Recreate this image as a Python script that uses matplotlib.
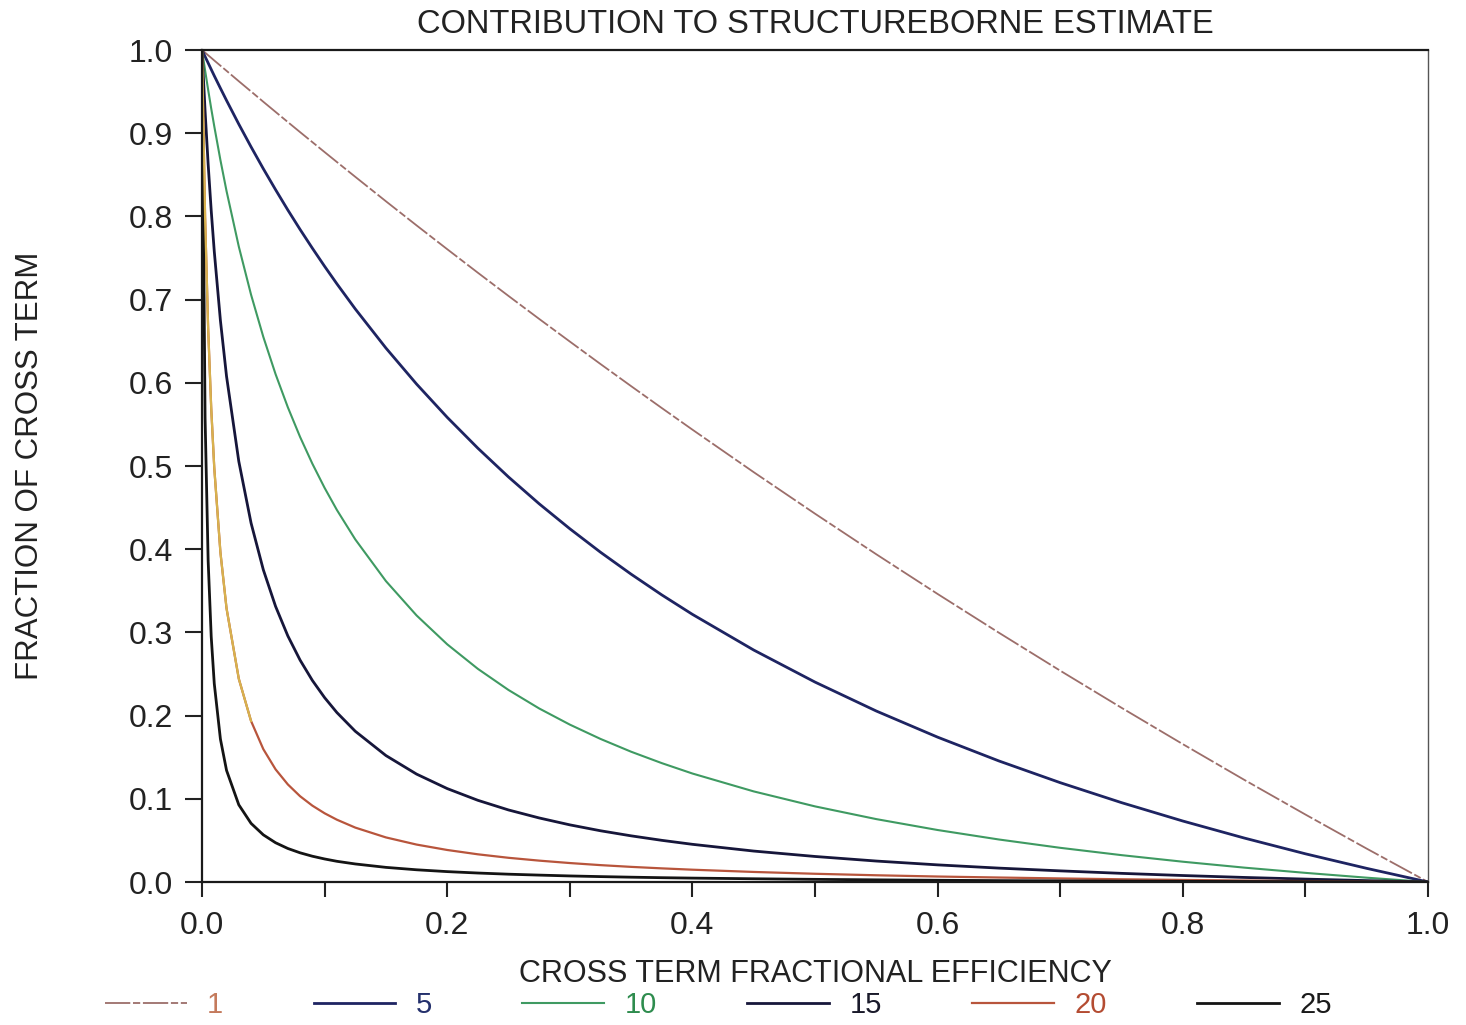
import numpy as np
import matplotlib
matplotlib.use("Agg")
import matplotlib.pyplot as plt

plt.rcParams['font.family'] = ['Liberation Sans', 'DejaVu Sans']

# cross term fractional efficiency
eff = [0.0, 0.0025, 0.005, 0.0075, 0.01, 0.015, 0.02, 0.03, 0.04, 0.05,
       0.06, 0.07, 0.08, 0.09, 0.10, 0.11, 0.125, 0.15, 0.175, 0.20,
       0.225, 0.25, 0.275, 0.30, 0.325, 0.35, 0.375, 0.40, 0.45, 0.50,
       0.55, 0.60, 0.65, 0.70, 0.75, 0.80, 0.85, 0.90, 0.95, 1.0]

# fraction of cross term, one list per curve
frac_1 = [1.0, 0.9969, 0.9937, 0.9906, 0.9874, 0.9812, 0.9750, 0.9625, 0.9502, 0.9378,
          0.9256, 0.9134, 0.9013, 0.8893, 0.8773, 0.8654, 0.8476, 0.8182, 0.7892, 0.7606,
          0.7323, 0.7044, 0.6768, 0.6496, 0.6226, 0.5960, 0.5697, 0.5437, 0.4926, 0.4427,
          0.3939, 0.3462, 0.2996, 0.2540, 0.2094, 0.1657, 0.1229, 0.0811, 0.0401, 0.0]
frac_5 = [1.0, 0.9921, 0.9844, 0.9767, 0.9690, 0.9541, 0.9394, 0.9109, 0.8836, 0.8573,
          0.8321, 0.8077, 0.7843, 0.7618, 0.7400, 0.7190, 0.6888, 0.6418, 0.5985, 0.5585,
          0.5214, 0.4868, 0.4546, 0.4246, 0.3964, 0.3700, 0.3451, 0.3217, 0.2788, 0.2403,
          0.2055, 0.1741, 0.1455, 0.1194, 0.0954, 0.0733, 0.0529, 0.0339, 0.0164, 0.0]
frac_10 = [1.0, 0.9756, 0.9522, 0.9297, 0.9083, 0.8678, 0.8305, 0.7638, 0.7059, 0.6552,
           0.6104, 0.5706, 0.5349, 0.5028, 0.4737, 0.4472, 0.4118, 0.3617, 0.3204, 0.2857,
           0.2562, 0.2308, 0.2086, 0.1892, 0.1720, 0.1566, 0.1429, 0.1304, 0.1089, 0.0909,
           0.0756, 0.0625, 0.0511, 0.0411, 0.0323, 0.0244, 0.0173, 0.0110, 0.0052, 0.0]
frac_15 = [1.0, 0.9266, 0.8629, 0.8071, 0.7579, 0.6750, 0.6078, 0.5056, 0.4315, 0.3753,
           0.3313, 0.2958, 0.2667, 0.2423, 0.2216, 0.2037, 0.1812, 0.1520, 0.1297, 0.1123,
           0.0982, 0.0866, 0.0770, 0.0687, 0.0616, 0.0555, 0.0501, 0.0453, 0.0372, 0.0307,
           0.0252, 0.0206, 0.0167, 0.0134, 0.0104, 0.0078, 0.0055, 0.0035, 0.0017, 0.0]
frac_20 = [1.0, 0.7996, 0.6656, 0.5696, 0.4975, 0.3964, 0.3289, 0.2443, 0.1935, 0.1597,
           0.1354, 0.1173, 0.1031, 0.0918, 0.0826, 0.0749, 0.0654, 0.0536, 0.0450, 0.0385,
           0.0333, 0.0291, 0.0257, 0.0228, 0.0203, 0.0182, 0.0164, 0.0148, 0.0121, 0.0099,
           0.0081, 0.0066, 0.0054, 0.0043, 0.0033, 0.0025, 0.0018, 0.0011, 0.0005, 0.0]
frac_25 = [1.0, 0.5579, 0.3862, 0.2950, 0.2384, 0.1719, 0.1342, 0.0928, 0.0705, 0.0567,
           0.0472, 0.0403, 0.0351, 0.0310, 0.0277, 0.0249, 0.0217, 0.0176, 0.0147, 0.0125,
           0.0108, 0.0094, 0.0083, 0.0073, 0.0065, 0.0058, 0.0052, 0.0047, 0.0039, 0.0032,
           0.0026, 0.0021, 0.0017, 0.0014, 0.0011, 0.0008, 0.0006, 0.0004, 0.0002, 0.0]

labels = ['1', '5', '10', '15', '20', '25']
series = [frac_1, frac_5, frac_10, frac_15, frac_20, frac_25]
line_colors = ['#9c6e6a', '#1e2462', '#3f9a62', '#16163a', '#b8553c', '#141414']
text_colors = ['#c47a5c', '#24306c', '#2e8c4e', '#1a1a2a', '#b44c32', '#1a1a1a']
widths = [1.3, 2.0, 1.5, 2.0, 1.6, 2.0]

fig = plt.figure(figsize=(14.66, 10.25), dpi=100)
ax = fig.add_axes([0.1378, 0.1395, 0.8363, 0.8117])

handles = []
for lab, ys, c, w in zip(labels, series, line_colors, widths):
    if lab == '1':
        h, = ax.plot(eff, ys, color=c, lw=w, dashes=[14, 1.5, 4, 1.5], label=lab)
    else:
        h, = ax.plot(eff, ys, color=c, lw=w, label=lab)
    handles.append(h)

# upper part of the 20 curve came out yellowish on the plotter
e20 = np.array(eff)
y20 = np.array(frac_20)
hi = y20 >= 0.18
ax.plot(e20[hi], y20[hi], color='#d8b24e', lw=1.6)

ax.set_xlim(0, 1)
ax.set_ylim(0, 1)
ax.set_xticks(np.arange(0, 1.01, 0.2))
ax.set_xticks(np.arange(0, 1.01, 0.1), minor=True)
ax.set_yticks(np.arange(0, 1.01, 0.1))
ax.xaxis.set_major_formatter(matplotlib.ticker.FormatStrFormatter('%.1f'))
ax.yaxis.set_major_formatter(matplotlib.ticker.FormatStrFormatter('%.1f'))
ax.tick_params(axis='x', which='both', direction='out', length=11, width=1.5,
               pad=10, labelsize=23, colors='#222222')
ax.tick_params(axis='y', which='both', direction='out', length=12, width=1.5,
               pad=9, labelsize=23, colors='#222222')
for s in ['left', 'bottom', 'top']:
    ax.spines[s].set_linewidth(1.6)
    ax.spines[s].set_color('#1a1a1a')
ax.spines['right'].set_linewidth(1.0)
ax.spines['right'].set_color('#555555')

ax.set_title('CONTRIBUTION TO STRUCTUREBORNE ESTIMATE', fontsize=23.5,
             pad=12, color='#222222')
ax.set_xlabel('CROSS TERM FRACTIONAL EFFICIENCY', fontsize=22,
              labelpad=13, color='#222222')
ax.set_ylabel('FRACTION OF CROSS TERM', fontsize=22.5, labelpad=60,
              color='#222222')

fig.legend(handles=handles, labels=labels, loc='lower center',
           bbox_to_anchor=(0.49, -0.02), ncol=6, frameon=False,
           fontsize=21, handlelength=2.8, handletextpad=0.7,
           columnspacing=3.1, labelcolor=text_colors)

fig.savefig('out.png', dpi=100)
